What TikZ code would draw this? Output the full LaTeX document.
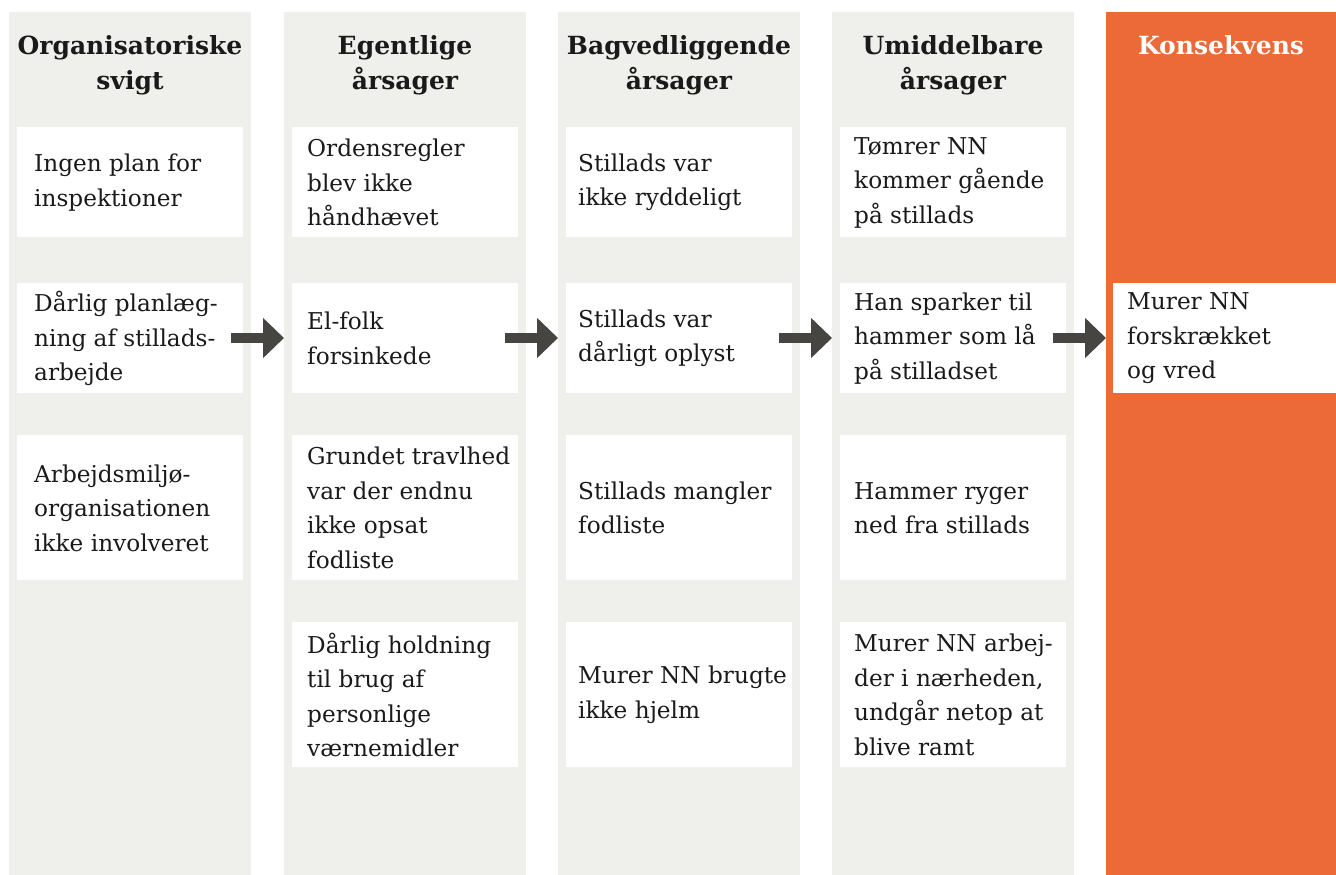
\documentclass[tikz,border=0pt]{standalone}
\usepackage{fontspec}
\setmainfont{DejaVu Serif}
\usetikzlibrary{arrows.meta}
\definecolor{colgray}{HTML}{EFEFEB}
\definecolor{orng}{HTML}{EC6A37}
\definecolor{arrgray}{HTML}{474541}
\definecolor{txt}{HTML}{1A1A1A}
\begin{document}
\begin{tikzpicture}[x=1pt,y=-1pt,
  colbox/.style={fill=colgray, draw=none, minimum width=242pt, minimum height=863pt, anchor=north west, inner sep=0pt, outer sep=0pt},
  cellbox/.style={fill=white, draw=none, minimum width=226pt, anchor=north west, inner sep=0pt, outer sep=0pt},
  rowa/.style={minimum height=110pt},
  rowb/.style={minimum height=145pt},
  celltext/.style={anchor=west, align=left, inner sep=0pt, font=\fontsize{23.2}{34.5}\selectfont, text=txt},
  head/.style={align=center, anchor=north, inner sep=0pt, font=\fontsize{25}{35}\bfseries\selectfont, text=txt},
  arr/.style={line width=10pt, draw=arrgray, -{Triangle[width=39pt,length=21pt]}}]
\fill[white] (0,0) rectangle (1336,875);
\useasboundingbox (0,0) rectangle (1336,875);
% columns
\node[colbox] (c1) at (9,12) {};
\node[colbox] (c2) at (284,12) {};
\node[colbox] (c3) at (558,12) {};
\node[colbox] (c4) at (832,12) {};
\node[colbox, fill=orng, minimum width=230pt] (c5) at (1106,12) {};
% headers
\node[head] (h1) at (130,35) {Organisatoriske\\svigt};
\node[head] (h2) at (405,35) {Egentlige\\årsager};
\node[head] (h3) at (679,35) {Bagvedliggende\\årsager};
\node[head] (h4) at (953,35) {Umiddelbare\\årsager};
\node[head, text=white] (h5) at (1221,35) {Konsekvens};
% column 1
\node[cellbox, rowa] (b11) at (17,127) {};
\node[cellbox, rowa] (b12) at (17,283) {};
\node[cellbox, rowb] (b13) at (17,435) {};
\node[celltext] (t11) at ([xshift=17pt,yshift=-0.5pt]b11.west) {Ingen plan for\\inspektioner};
\node[celltext] (t12) at ([xshift=17pt,yshift=-0.5pt]b12.west) {Dårlig planlæg-\\ning af stillads-\\arbejde};
\node[celltext] (t13) at ([xshift=17pt,yshift=-0.5pt]b13.west) {Arbejdsmiljø-\\organisationen\\ikke involveret};
% column 2
\node[cellbox, rowa] (b21) at (292,127) {};
\node[cellbox, rowa] (b22) at (292,283) {};
\node[cellbox, rowb] (b23) at (292,435) {};
\node[cellbox, rowb] (b24) at (292,622) {};
\node[celltext] (t21) at ([xshift=15pt,yshift=-0.5pt]b21.west) {Ordensregler\\blev ikke\\håndhævet};
\node[celltext] (t22) at ([xshift=15pt,yshift=-0.5pt]b22.west) {El-folk\\forsinkede};
\node[celltext] (t23) at ([xshift=15pt,yshift=-0.5pt]b23.west) {Grundet travlhed\\var der endnu\\ikke opsat\\fodliste};
\node[celltext] (t24) at ([xshift=15pt,yshift=-0.5pt]b24.west) {Dårlig holdning\\til brug af\\personlige\\værnemidler};
% column 3
\node[cellbox, rowa] (b31) at (566,127) {};
\node[cellbox, rowa] (b32) at (566,283) {};
\node[cellbox, rowb] (b33) at (566,435) {};
\node[cellbox, rowb] (b34) at (566,622) {};
\node[celltext] (t31) at ([xshift=12pt,yshift=-0.5pt]b31.west) {Stillads var\\ikke ryddeligt};
\node[celltext] (t32) at ([xshift=12pt,yshift=-0.5pt]b32.west) {Stillads var\\dårligt oplyst};
\node[celltext] (t33) at ([xshift=12pt,yshift=-0.5pt]b33.west) {Stillads mangler\\fodliste};
\node[celltext] (t34) at ([xshift=12pt,yshift=-0.5pt]b34.west) {Murer NN brugte\\ikke hjelm};
% column 4
\node[cellbox, rowa] (b41) at (840,127) {};
\node[cellbox, rowa] (b42) at (840,283) {};
\node[cellbox, rowb] (b43) at (840,435) {};
\node[cellbox, rowb] (b44) at (840,622) {};
\node[celltext] (t41) at ([xshift=14pt,yshift=-0.5pt]b41.west) {Tømrer NN\\kommer gående\\på stillads};
\node[celltext] (t42) at ([xshift=14pt,yshift=-0.5pt]b42.west) {Han sparker til\\hammer som lå\\på stilladset};
\node[celltext] (t43) at ([xshift=14pt,yshift=-0.5pt]b43.west) {Hammer ryger\\ned fra stillads};
\node[celltext] (t44) at ([xshift=14pt,yshift=-0.5pt]b44.west) {Murer NN arbej-\\der i nærheden,\\undgår netop at\\blive ramt};
% column 5
\node[cellbox, rowa, minimum width=223pt] (b52) at (1113,283) {};
\node[celltext] (t52) at ([xshift=14pt,yshift=-0.5pt]b52.west) {Murer NN\\forskrækket\\og vred};
% arrows
\draw[arr] ([xshift=-12pt]b12.east) -- (c2.west |- b12.east);
\draw[arr] ([xshift=-13pt]b22.east) -- (c3.west |- b22.east);
\draw[arr] ([xshift=-13pt]b32.east) -- (c4.west |- b32.east);
\draw[arr] ([xshift=-13pt]b42.east) -- (c5.west |- b42.east);
\end{tikzpicture}
\end{document}
